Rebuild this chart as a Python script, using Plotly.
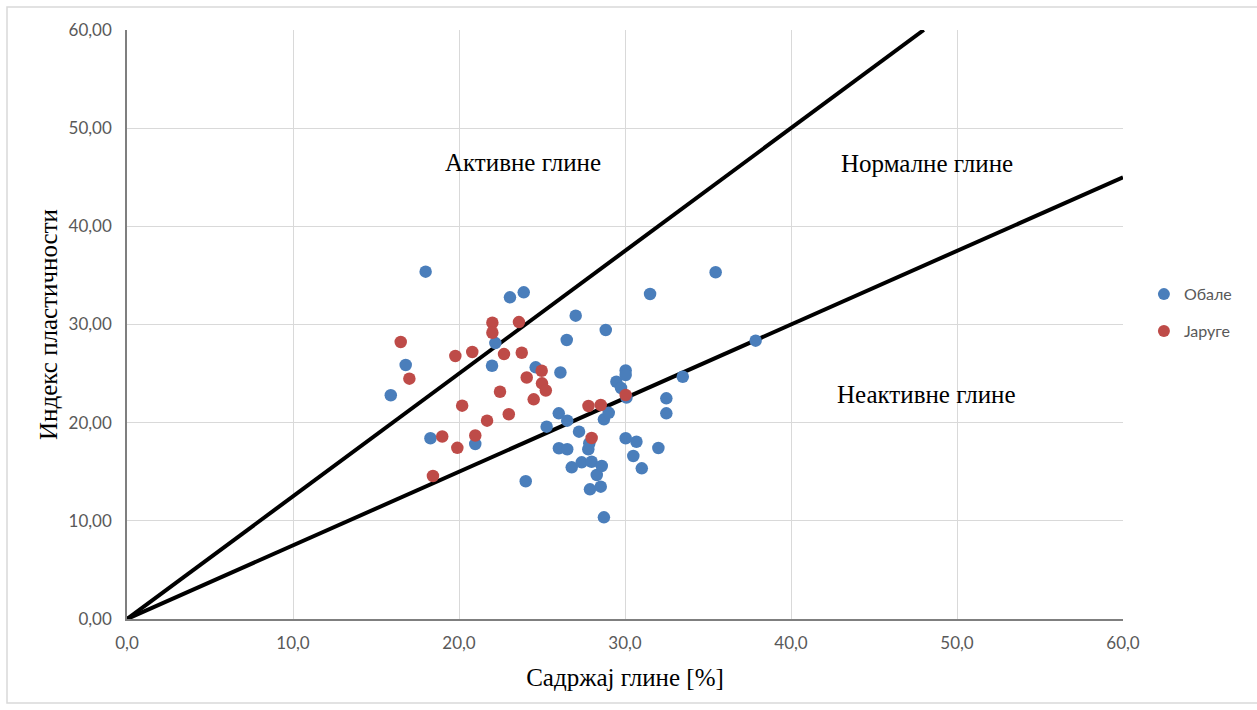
import plotly.graph_objects as go

# Обале (bank samples): clay content [%] and plasticity index
obale_clay = [15.89, 16.79, 17.99, 18.28, 20.98, 21.99, 22.19, 23.07, 23.90, 24.02,
              24.62, 25.28, 26.01, 26.11, 26.02, 26.49, 26.52, 26.52, 26.79, 27.03,
              27.23, 27.39, 27.79, 27.85, 27.89, 27.99, 28.30, 28.54, 28.60, 28.73,
              28.73, 28.84, 29.02, 29.48, 29.76, 30.04, 30.04, 30.09, 30.04, 30.69,
              30.50, 31.01, 31.51, 32.01, 32.49, 32.49, 33.48, 35.46, 37.87]
obale_pi = [22.79, 25.87, 35.38, 18.41, 17.83, 25.80, 28.11, 32.77, 33.28, 14.03,
            25.64, 19.59, 20.95, 25.11, 17.39, 28.42, 20.20, 17.29, 15.45, 30.90,
            19.08, 15.96, 17.29, 17.90, 13.21, 16.02, 14.67, 13.48, 15.59, 10.36,
            20.34, 29.44, 21.00, 24.17, 23.53, 25.31, 24.85, 22.56, 18.41, 18.06,
            16.60, 15.35, 33.11, 17.42, 22.48, 20.95, 24.68, 35.32, 28.35]

# Јаруге (gully samples)
jaruge_clay = [16.49, 17.01, 18.43, 18.99, 19.78, 19.90, 20.19, 20.80, 20.98, 21.69,
               22.01, 22.01, 22.47, 22.71, 23.00, 23.61, 23.78, 24.08, 24.50, 24.98,
               25.00, 25.23, 27.80, 28.54, 27.99, 30.04]
jaruge_pi = [28.22, 24.48, 14.57, 18.59, 26.79, 17.44, 21.73, 27.20, 18.69, 20.20,
             30.18, 29.16, 23.15, 26.99, 20.86, 30.25, 27.12, 24.60, 22.38, 25.29,
             24.01, 23.28, 21.70, 21.80, 18.44, 22.82]

# Activity boundary lines (Skempton): A = 1.25 and A = 0.75
active_x = [0.0, 48.0]
active_y = [0.0, 60.0]
inactive_x = [0.0, 60.0]
inactive_y = [0.0, 45.0]

# Zone labels
zone_labels = ["Активне глине", "Нормалне глине", "Неактивне глине"]
zone_x = [23.86, 48.19, 48.16]
zone_y = [46.55, 46.45, 22.82]

x_ticks = [0, 10, 20, 30, 40, 50, 60]
y_ticks = [0, 10, 20, 30, 40, 50, 60]

SERIF = "Liberation Serif"
SANS = "Lato"
TICK_GRAY = "#595959"

fig = go.Figure()

for lx, ly in [(active_x, active_y), (inactive_x, inactive_y)]:
    fig.add_trace(go.Scatter(x=lx, y=ly, mode="lines",
                             line=dict(color="black", width=4),
                             showlegend=False, hoverinfo="skip"))

fig.add_trace(go.Scatter(x=obale_clay, y=obale_pi, mode="markers", name="Обале",
                         legendgroup="a",
                         marker=dict(color="#4A7EBB", size=12.5, line=dict(width=0))))
fig.add_trace(go.Scatter(x=jaruge_clay, y=jaruge_pi, mode="markers", name="Јаруге",
                         legendgroup="b",
                         marker=dict(color="#BE4B48", size=12.5, line=dict(width=0))))

for txt, ax, ay in zip(zone_labels, zone_x, zone_y):
    fig.add_annotation(x=ax, y=ay, text=txt, showarrow=False,
                       font=dict(family=SERIF, size=25, color="black"))

# Light outer frame around the whole chart
fig.add_shape(type="rect", xref="paper", yref="paper",
              x0=(7 - 127) / 996, x1=(1262 - 127) / 996,
              y0=(619 - 703) / 589, y1=(619 - 7) / 589,
              line=dict(color="#d9d9d9", width=1.5), layer="below")

fig.update_layout(
    width=1257, height=710,
    margin=dict(l=127, r=134, t=30, b=91),
    plot_bgcolor="white", paper_bgcolor="white",
    separators=", ",
    legend=dict(x=1.021, y=0.52, xanchor="left", yanchor="middle",
                font=dict(family=SANS, size=16, color=TICK_GRAY),
                tracegroupgap=13, itemsizing="constant", bgcolor="rgba(0,0,0,0)"),
    xaxis=dict(range=[0, 60], tickvals=x_ticks, tickformat=".1f",
               showgrid=True, gridcolor="#d9d9d9", gridwidth=1,
               showline=True, linecolor="#7f7f7f", linewidth=1.5,
               zeroline=False, ticks="", ticklabelstandoff=8,
               tickfont=dict(family=SANS, size=17, color=TICK_GRAY),
               title=dict(text="Садржај глине [%]",
                          font=dict(family=SERIF, size=25, color="black"),
                          standoff=16)),
    yaxis=dict(range=[0, 60], tickvals=y_ticks, tickformat=".2f",
               showgrid=True, gridcolor="#d9d9d9", gridwidth=1,
               showline=True, linecolor="#7f7f7f", linewidth=1.5,
               zeroline=False, ticks="", ticklabelstandoff=10,
               tickfont=dict(family=SANS, size=17, color=TICK_GRAY),
               title=dict(text="Индекс пластичности",
                          font=dict(family=SERIF, size=25, color="black"),
                          standoff=4)),
)

fig.write_html("out.html")
